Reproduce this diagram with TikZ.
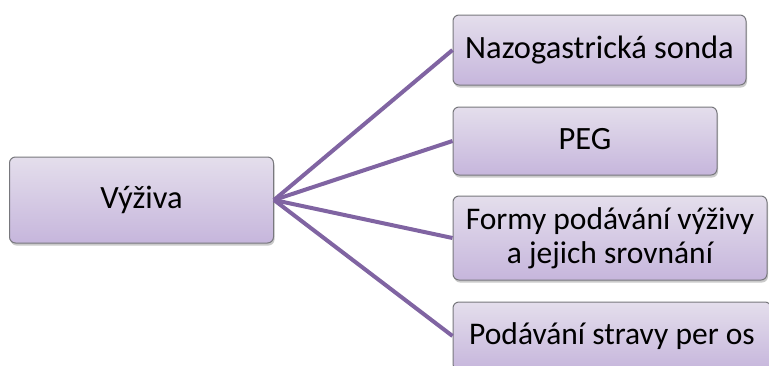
\documentclass[tikz,border=0pt]{standalone}
\usepackage{fontspec}
\setmainfont{Carlito}
\usetikzlibrary{shadows}
\definecolor{linepurple}{RGB}{128,100,162}
\definecolor{boxtop}{RGB}{228,222,236}
\definecolor{boxbot}{RGB}{198,182,220}
\definecolor{boxedge}{RGB}{120,120,125}
\tikzset{
  topicbox/.style={draw=boxedge, line width=1pt, rounded corners=6pt,
    top color=boxtop, bottom color=boxbot, inner sep=0pt,
    font=\fontsize{32.5}{34}\selectfont, align=center, text=black,
    text height=24pt, text depth=8pt,
    drop shadow={shadow xshift=1pt, shadow yshift=-2.5pt, opacity=0.35, fill=black!60}},
  smalltext/.style={font=\fontsize{31.5}{34}\selectfont},
  link/.style={draw=linepurple, line width=4pt}
}
\begin{document}
\begin{tikzpicture}[x=1pt,y=-1pt]
\useasboundingbox (0,0) rectangle (769,365);
\clip (0,0) rectangle (769,365);
\node[topicbox, minimum width=264pt, minimum height=86pt] (root) at (141.5,200) {Výživa};
\node[topicbox, minimum width=293pt, minimum height=70pt] (b1) at (599.5,50) {Nazogastrická sonda};
\node[topicbox, minimum width=264pt, minimum height=68pt] (b2) at (585,141) {PEG};
\node[topicbox, smalltext, text height=58pt, minimum width=314pt, minimum height=84pt] (b3) at (610,238) {Formy podávání výživy\\a jejich srovnání};
\node[topicbox, smalltext, minimum width=318pt, minimum height=68pt] (b4) at (612,336) {Podávání stravy per os};
\draw[link] (root.east) -- (b1.west);
\draw[link] (root.east) -- (b2.west);
\draw[link] (root.east) -- (b3.west);
\draw[link] (root.east) -- (b4.west);
\end{tikzpicture}
\end{document}
